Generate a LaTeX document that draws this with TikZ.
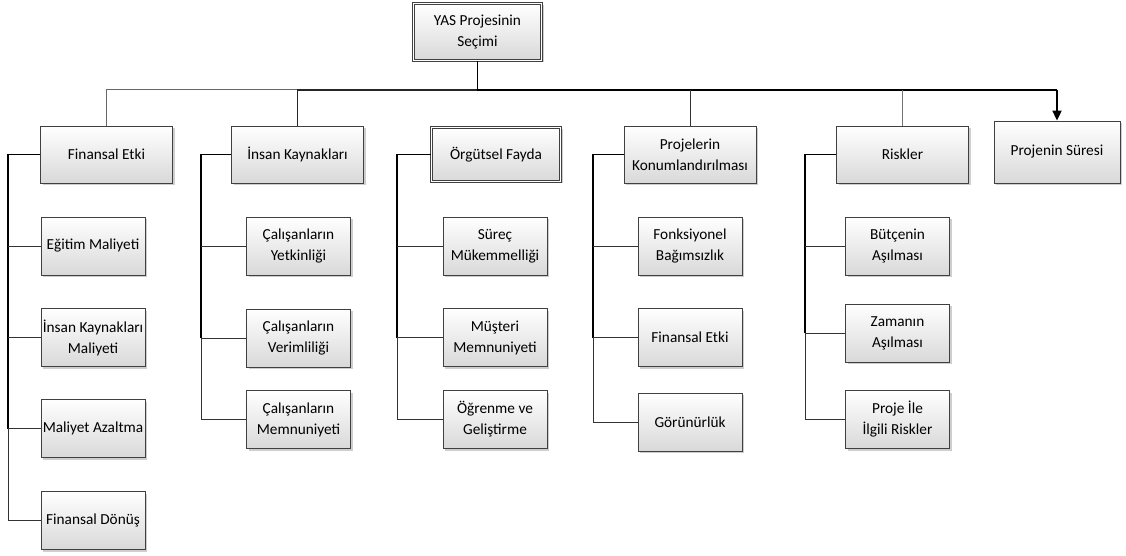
\documentclass[tikz,border=0pt]{standalone}
\usepackage{fontspec}
\setmainfont{Carlito}
\usetikzlibrary{shadows,arrows.meta}
\begin{document}
\begin{tikzpicture}[x=1pt,y=-1pt,
  box/.style={draw=black!75, line width=0.8pt, top color=white, bottom color=black!15,
    align=center, inner sep=0pt, text=black, font=\fontsize{15.3}{21}\selectfont,
    drop shadow={shadow xshift=2pt, shadow yshift=-2pt, fill=black!35, opacity=0.55}},
  headbox/.style={box, minimum width=132pt, minimum height=57pt},
  leafbox/.style={box, minimum width=104pt, minimum height=58pt},
  dbl/.style={double=white, double distance=1.6pt, line width=0.7pt},
  twig/.style={draw=black!80, line width=0.8pt},
  trunk/.style={draw=black, line width=1.5pt},
  busthin/.style={draw=black!60, line width=1pt},
  busmid/.style={draw=black!85, line width=1.3pt},
  busthick/.style={draw=black, line width=1.8pt},
]
\useasboundingbox (0,0) rectangle (1126,556);

% top level
\node[box, dbl, minimum width=128pt, minimum height=57pt] (root) at (477.5,32) {YAS Projesinin\\Seçimi};

% category heads
\node[headbox] (fe) at (106.5,154.5) {Finansal Etki};
\node[headbox] (ik) at (297.5,154.5) {İnsan Kaynakları};
\node[headbox, dbl, minimum width=129pt, minimum height=54pt] (of) at (496,154.5) {Örgütsel Fayda};
\node[headbox] (pk) at (690,154.5) {Projelerin\\Konumlandırılması};
\node[headbox] (rk) at (902.5,154.5) {Riskler};
\node[box, minimum width=126pt, minimum height=62pt] (ps) at (1057,152) {Projenin Süresi};

% leaves: Finansal Etki
\node[leafbox] (a1) at (93,246) {Eğitim Maliyeti};
\node[leafbox] (a2) at (93,337.5) {İnsan Kaynakları\\Maliyeti};
\node[leafbox] (a3) at (93,428.5) {Maliyet Azaltma};
\node[leafbox] (a4) at (93,520.5) {Finansal Dönüş};

% leaves: İnsan Kaynakları
\node[leafbox] (b1) at (298.5,246) {Çalışanların\\Yetkinliği};
\node[leafbox] (b2) at (298.5,338) {Çalışanların\\Verimliliği};
\node[leafbox] (b3) at (298.5,419.5) {Çalışanların\\Memnuniyeti};

% leaves: Örgütsel Fayda
\node[leafbox] (c1) at (495,246) {Süreç\\Mükemmelliği};
\node[leafbox] (c2) at (495,337.5) {Müşteri\\Memnuniyeti};
\node[leafbox] (c3) at (495,419.5) {Öğrenme ve\\Geliştirme};

% leaves: Projelerin Konumlandırılması
\node[leafbox] (d1) at (690,246) {Fonksiyonel\\Bağımsızlık};
\node[leafbox] (d2) at (690,337.5) {Finansal Etki};
\node[leafbox] (d3) at (690,422) {Görünürlük};

% leaves: Riskler
\node[leafbox] (e1) at (897.5,246) {Bütçenin\\Aşılması};
\node[leafbox] (e2) at (897.5,333) {Zamanın\\Aşılması};
\node[leafbox] (e3) at (897.5,419.5) {Proje İle\\İlgili Riskler};

% bus line under the top box
\coordinate (bus) at (0,90);
\draw[busthin] (fe.north) -- (fe.north |- bus) -- (ik.north |- bus);
\draw[busmid] (ik.north) -- (ik.north |- bus) -- (root.south |- bus);
\draw[busthick] (root.south) -- (root.south |- bus) -- (ps.north |- bus);
\draw[busthick, -{Triangle[width=9pt,length=10pt]}] (ps.north |- bus) -- (ps.north);
\draw[twig] (pk.north) -- (pk.north |- bus);
\draw[draw=black!55, line width=0.8pt] (rk.north) -- (rk.north |- bus);

% side trunks
\coordinate (t1) at (8,154.5);
\coordinate (t2) at (201,154.5);
\coordinate (t3) at (397,154.5);
\coordinate (t4) at (593,154.5);
\coordinate (t5) at (805,154.5);

\draw[trunk] (fe.west) -- (t1) -- (t1 |- a3.west);
\draw[twig] (t1 |- a3.west) -- (t1 |- a4.west) -- (a4.west);
\foreach \n in {a1,a2,a3} \draw[twig] (t1 |- \n.west) -- (\n.west);

\draw[trunk] (ik.west) -- (t2) -- (t2 |- b2.west);
\draw[twig] (t2 |- b2.west) -- (t2 |- b3.west) -- (b3.west);
\foreach \n in {b1,b2} \draw[twig] (t2 |- \n.west) -- (\n.west);

\draw[trunk] (of.west) -- (t3) -- (t3 |- c2.west);
\draw[twig] (t3 |- c2.west) -- (t3 |- c3.west) -- (c3.west);
\foreach \n in {c1,c2} \draw[twig] (t3 |- \n.west) -- (\n.west);

\draw[trunk] (pk.west) -- (t4) -- (t4 |- d2.west);
\draw[twig] (t4 |- d2.west) -- (t4 |- d3.west) -- (d3.west);
\foreach \n in {d1,d2} \draw[twig] (t4 |- \n.west) -- (\n.west);

\draw[trunk] (rk.west) -- (t5) -- (t5 |- e2.west);
\draw[twig] (t5 |- e2.west) -- (t5 |- e3.west) -- (e3.west);
\foreach \n in {e1,e2} \draw[twig] (t5 |- \n.west) -- (\n.west);
\end{tikzpicture}
\end{document}
